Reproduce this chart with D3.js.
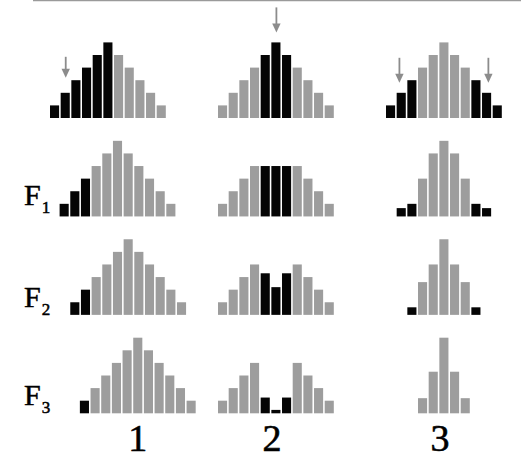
<!DOCTYPE html>
<html>
<head>
<meta charset="utf-8">
<script src="https://cdn.jsdelivr.net/npm/d3@7"></script>
<style>
  html, body { margin: 0; padding: 0; background: #fff; }
  svg { display: block; }
</style>
</head>
<body>
<script>
// ---- data ----
const panelLabels = ["1", "2", "3"];
const generationLabels = ["", "F1", "F2", "F3"];

// Panel 1: directional selection (distribution shifts right)
const p1Heights = [
  [1, 2, 3, 4, 5, 6, 5, 4, 3, 2, 1],
  [1, 2, 3, 4, 5, 6, 5, 4, 3, 2, 1],
  [1, 2, 3, 4, 5, 6, 5, 4, 3, 2, 1],
  [1, 2, 3, 4, 5, 6, 5, 4, 3, 2, 1]
];
const p1Selected = [
  [1, 1, 1, 1, 1, 1, 0, 0, 0, 0, 0],
  [1, 1, 1, 0, 0, 0, 0, 0, 0, 0, 0],
  [1, 1, 0, 0, 0, 0, 0, 0, 0, 0, 0],
  [1, 0, 0, 0, 0, 0, 0, 0, 0, 0, 0]
];
const p1StartBin = [0, 0.9, 1.9, 2.8];

// Panel 2: disruptive selection (centre removed)
const p2Heights = [
  [1, 2, 3, 4, 5, 6, 5, 4, 3, 2, 1],
  [1, 2, 3, 4, 4, 4, 4, 4, 3, 2, 1],
  [1, 2, 3, 4, 3.3, 2.2, 3.3, 4, 3, 2, 1],
  [1, 2, 3, 4, 1.25, 0.27, 1.25, 4, 3, 2, 1]
];
const p2Selected = [
  [0, 0, 0, 0, 1, 1, 1, 0, 0, 0, 0],
  [0, 0, 0, 0, 1, 1, 1, 0, 0, 0, 0],
  [0, 0, 0, 0, 1, 1, 1, 0, 0, 0, 0],
  [0, 0, 0, 0, 1, 1, 1, 0, 0, 0, 0]
];
const p2StartBin = [0, 0, 0, 0];

// Panel 3: stabilizing selection (tails removed)
const p3Heights = [
  [1, 2, 3, 4, 5, 6, 5, 4, 3, 2, 1],
  [0.66, 1, 3, 5, 6, 5, 3, 1, 0.66],
  [0.6, 2.6, 4, 6, 4, 2.6, 0.6],
  [1.2, 3.3, 6, 3.3, 1.2]
];
const p3Selected = [
  [1, 1, 1, 0, 0, 0, 0, 0, 1, 1, 1],
  [1, 1, 0, 0, 0, 0, 0, 1, 1],
  [1, 0, 0, 0, 0, 0, 1],
  [0, 0, 0, 0, 0]
];
const p3StartBin = [0, 1, 2, 3];

// Arrows (selection pressure) on the first generation
const arrowPanel = [0, 1, 2, 2];
const arrowBin = [1, 5, 1, 9];

// ---- build ----
const W = 521, H = 463;
const GRAY = "#9d9d9d", BLACK = "#050505", ARROW = "#8c8c8c";

const panels = [
  { heights: p1Heights, selected: p1Selected, start: p1StartBin },
  { heights: p2Heights, selected: p2Selected, start: p2StartBin },
  { heights: p3Heights, selected: p3Selected, start: p3StartBin }
];

const svg = d3.select("body").append("svg")
  .attr("width", W).attr("height", H);

// scales
const panelX = d3.scaleLinear().domain([0, 2]).range([50, 386]);     // left of bin 0
const binX = d3.scaleLinear().domain([0, 11]).range([0, 11 * 10.67]);   // bin -> px offset
const rowBase = d3.scaleLinear().domain([0, 3]).range([118, 413.3]);  // baseline per row
const hScale = d3.scaleLinear().domain([0, 6]).range([0, 75.6]);      // height units -> px
const barW = 9.1;

// top rule
svg.append("line")
  .attr("x1", 33).attr("x2", W).attr("y1", 0.6).attr("y2", 0.6)
  .attr("stroke", "#9a9a9a").attr("stroke-width", 1.4);

const bars = [];
panels.forEach((p, pi) => {
  p.heights.forEach((row, ri) => {
    row.forEach((h, bi) => {
      bars.push({ pi, ri, bin: p.start[ri] + bi, h, sel: p.selected[ri][bi] });
    });
  });
});

svg.append("g").selectAll("rect").data(bars).join("rect")
  .attr("x", d => panelX(d.pi) + binX(d.bin))
  .attr("y", d => rowBase(d.ri) - hScale(d.h))
  .attr("width", barW)
  .attr("height", d => hScale(d.h))
  .attr("fill", d => d.sel ? BLACK : GRAY);

// arrows
const arrows = arrowPanel.map((pi, i) => {
  const bin = arrowBin[i];
  const h = panels[pi].heights[0][bin];
  return { pi, bin, h, gap: pi === 0 ? 15 : 10, len: pi === 0 ? 21 : 25 };
});
const ag = svg.append("g");
arrows.forEach(a => {
  const cx = panelX(a.pi) + binX(a.bin) + barW / 2 + (a.pi === 2 ? (a.bin < 5 ? -1.8 : 1.8) : 0.5);
  const tip = rowBase(0) - hScale(a.h) - a.gap;
  ag.append("line")
    .attr("x1", cx).attr("x2", cx)
    .attr("y1", tip - a.len).attr("y2", tip - 7)
    .attr("stroke", ARROW).attr("stroke-width", 1.8);
  ag.append("path")
    .attr("d", `M${cx - 4.2},${tip - 9} L${cx + 4.2},${tip - 9} L${cx},${tip} Z`)
    .attr("fill", ARROW);
});

// generation labels F1, F2, F3
const labelOffsets = [0, 11, 8, 8];
generationLabels.forEach((lab, ri) => {
  if (!lab) return;
  const t = svg.append("text")
    .attr("x", 24)
    .attr("y", rowBase(ri) - labelOffsets[ri])
    .attr("font-family", "'Liberation Serif', 'Times New Roman', serif")
    .attr("font-size", 30)
    .attr("fill", "#000")
    .attr("stroke", "#000").attr("stroke-width", 0.5);
  t.append("tspan").text(lab[0]);
  t.append("tspan").attr("font-size", 17).attr("dx", 1).attr("dy", 8).text(lab.slice(1));
});

// panel labels 1, 2, 3
const labelDx = [0, -4, -4];
panelLabels.forEach((lab, pi) => {
  const p = panels[pi];
  const last = p.heights.length - 1;
  const n = p.heights[last].length;
  const cx = panelX(pi) + binX(p.start[last] + n / 2) - (binX(1) - barW) / 2 + labelDx[pi];
  svg.append("text")
    .attr("x", cx)
    .attr("y", 451)
    .attr("text-anchor", "middle")
    .attr("font-family", "'Liberation Serif', 'Times New Roman', serif")
    .attr("font-size", 38)
    .attr("fill", "#000")
    .attr("stroke", "#000").attr("stroke-width", 0.6)
    .text(lab);
});
</script>
</body>
</html>
